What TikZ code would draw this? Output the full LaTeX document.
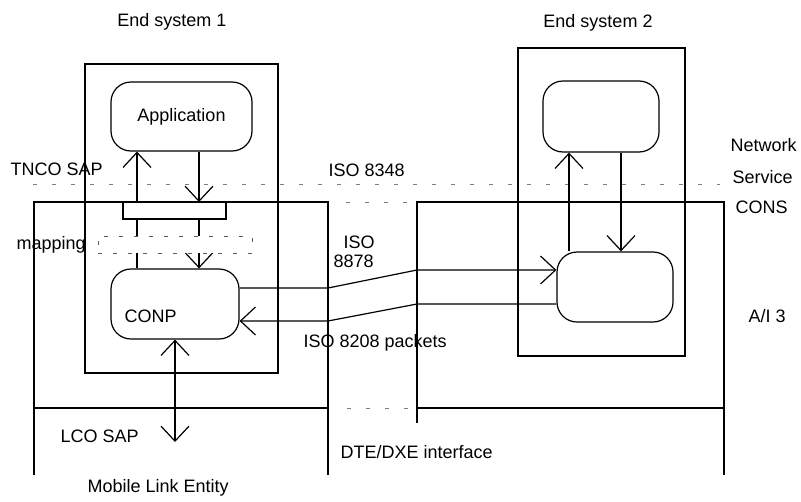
\documentclass[tikz,border=0pt]{standalone}
\usepackage{fontspec}
\setmainfont{Liberation Sans}
\usetikzlibrary{arrows.meta,positioning}
\definecolor{sapGray}{RGB}{125,125,125}
\definecolor{mapGray}{RGB}{90,90,90}
\tikzset{
  sysBox/.style    = {rectangle, draw, inner sep=0pt},
  entBox/.style    = {rectangle, rounded corners=20pt, draw, fill=white, inner sep=0pt},
  barBox/.style    = {rectangle, draw, fill=white, inner sep=0pt},
  sapLine/.style   = {draw=sapGray, line width=1pt, dash pattern=on 4pt off 15pt},
  openArrow/.style = {-{Straight Barb[length=15pt,width=28pt]}},
  openArrows/.style= {{Straight Barb[length=15pt,width=28pt]}-{Straight Barb[length=15pt,width=28pt]}},
  txt/.style       = {inner sep=0pt, anchor=base west},
}
\begin{document}
\begin{tikzpicture}[x=1pt,y=-1pt,line width=1.2pt,font=\fontsize{18}{22}\selectfont]
  \useasboundingbox (0,0) rectangle (801,501);
  \draw[sapLine] (33,184) -- (720,184);
  \draw[sapLine] (346,202) -- (415,202);
  \draw[sapLine] (347,408) -- (414,408);
  \draw (34,475) |- (328,202) -- (328,475);
  \draw (34,408) -- (328,408);
  \draw (417,423) |- (724,202) -- (724,475);
  \draw (417,408) -- (724,408);
  \node[sysBox,minimum width=193pt,minimum height=309pt](es1) at (181.5,218.5){};
  \node[sysBox,minimum width=167pt,minimum height=308pt](es2) at (601.5,202){};
  \node[entBox,minimum width=141pt,minimum height=69pt](app) at (181.5,116.5){Application};
  \node[entBox,minimum width=128pt,minimum height=70pt](conp) at (175,304){};
  \node[entBox,minimum width=116pt,minimum height=71pt](peerApp) at (601,116.5){};
  \node[entBox,minimum width=116pt,minimum height=70pt](peerNet) at (615,287){};
  \coordinate (upX) at (137,0);
  \coordinate (downX) at (199,0);
  \coordinate (upR) at (569,0);
  \coordinate (downR) at (621,0);
  \coordinate (lcoEnd) at (175,442);
  \coordinate (wA1) at (328,288);
  \coordinate (wA2) at (417,270);
  \coordinate (wB1) at (417,304);
  \coordinate (wB2) at (328,321);
  \draw[openArrow](upX |- conp.north)--(upX |- app.south);
  \draw[openArrow](downX |- app.south)--(downX |- {(0,202)});
  \draw[openArrow](downX |- {(0,219)})--(downX |- conp.north);
  \draw[openArrows](conp.south)--(lcoEnd);
  \draw[openArrow](upR |- peerNet.north)--(upR |- peerApp.south);
  \draw[openArrow](downR |- peerApp.south)--(downR |- peerNet.north);
  \draw[openArrow](conp.east |- wA1)--(wA1)--(wA2)--(wA2 -| peerNet.west);
  \draw[openArrow](peerNet.west |- wB1)--(wB1)--(wB2)--(wB2 -| conp.east);
  \node[barBox,minimum width=103pt,minimum height=17pt](sapBar) at (174.5,210.5){};
  \node[barBox,draw=mapGray,line width=1pt,dash pattern=on 4pt off 11pt,
        minimum width=154pt,minimum height=17pt](mapBar) at (175,244.5){};
  \node[txt,anchor=base](es1Title) at (172,26){End system 1};
  \node[txt,anchor=base](es2Title) at (598,27){End system 2};
  \node[txt](tncoSap) at (10,175){TNCO SAP};
  \node[txt](isoNs) at (328,176){ISO 8348};
  \node[txt](netLbl) at (730,151){Network};
  \node[txt](servLbl) at (732,183){Service};
  \node[txt](consLbl) at (735,213){CONS};
  \node[txt](mapLbl) at (16,249){mapping};
  \node[txt](isoTop) at (343,248){ISO};
  \node[txt](isoNum) at (333,267){8878};
  \node[txt](conpLbl) at (124,322){CONP};
  \node[txt](pktLbl) at (303,347){ISO 8208 packets};
  \node[txt](aiLbl) at (748,322){A/I 3};
  \node[txt](lcoSap) at (60,442){LCO SAP};
  \node[txt](dteLbl) at (340,458){DTE/DXE interface};
  \node[txt](mleLbl) at (87,492){Mobile Link Entity};
\end{tikzpicture}
\end{document}
